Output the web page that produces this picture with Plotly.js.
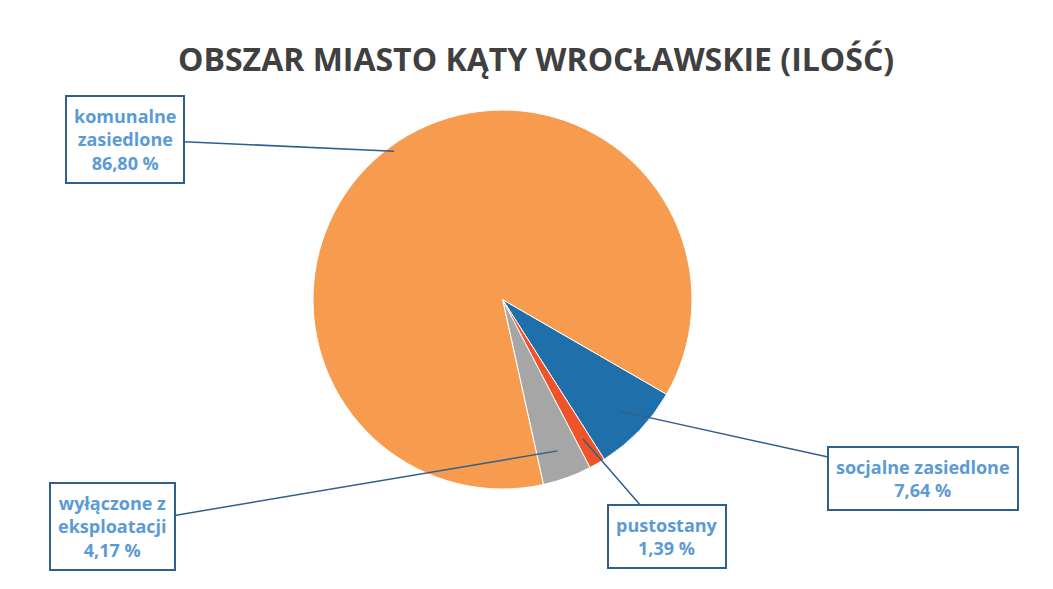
<!DOCTYPE html>
<html><head><meta charset="utf-8">
<script src="https://cdn.plot.ly/plotly-3.0.1.min.js"></script>
<style>html,body{margin:0;padding:0;background:#fff;}#chart{width:1053px;height:589px;}</style>
</head><body><div id="chart"></div>
<script>
const categories = ["socjalne zasiedlone", "pustostany", "wyłączone z eksploatacji", "komunalne zasiedlone"];
const labelLines = ["socjalne zasiedlone", "pustostany", "wyłączone z<br>eksploatacji", "komunalne<br>zasiedlone"];
const values = [7.64, 1.39, 4.17, 86.80];
const valueLabels = ["7,64 %", "1,39 %", "4,17 %", "86,80 %"];
const colors = ["#1F6FAA", "#F0532A", "#A6A6A6", "#F79B4F"];
const labelBoxCenters = [[923, 478], [667, 536], [112, 526], [125, 139]]; // pixels

const W = 1053, H = 589;
const M = {l: 0, r: 48, t: 110, b: 100};
const rotation = 120;
const plotH = H - M.t - M.b, plotW = W - M.l - M.r;
const cx = M.l + plotW / 2, cy = M.t + plotH / 2;
const R = Math.min(plotW, plotH) / 2;
const total = values.reduce((a, b) => a + b, 0);

const annotations = [{
  text: "<b>OBSZAR MIASTO KĄTY WROCŁAWSKIE (ILOŚĆ)</b>",
  xref: "paper", yref: "paper", x: (536 - M.l) / plotW, y: 1, yshift: 75, showarrow: false,
  font: {family: "Open Sans", size: 32, color: "#404040"}
}];
let cum = 0;
values.forEach((v, i) => {
  const b = (rotation + 360 * (cum + v / 2) / total) * Math.PI / 180;
  cum += v;
  const rr = i === 3 ? 0.97 : 0.85;
  const tx = cx + rr * R * Math.sin(b), ty = cy - rr * R * Math.cos(b);
  const [lx, ly] = labelBoxCenters[i];
  annotations.push({
    text: "<b>" + labelLines[i] + "<br>" + valueLabels[i] + "</b>",
    xref: "paper", yref: "paper",
    x: (tx - M.l) / plotW, y: 1 - (ty - M.t) / plotH,
    ax: lx - tx, ay: ly - ty, axref: "pixel", ayref: "pixel",
    showarrow: true, arrowhead: 0, arrowwidth: 1.5, arrowcolor: "#2F5F8F",
    bordercolor: "#2F5F8F", borderwidth: 2, borderpad: 7, bgcolor: "#FFFFFF",
    font: {family: "Open Sans", size: 18, color: "#5B9BD5"}, align: "center"
  });
});

Plotly.newPlot("chart", [{
  type: "pie", labels: categories, values: values, sort: false,
  direction: "clockwise", rotation: rotation,
  marker: {colors: colors, line: {color: "#FFFFFF", width: 1}},
  textinfo: "none", hoverinfo: "label+percent", showlegend: false
}], {
  width: W, height: H, margin: M, paper_bgcolor: "#FFFFFF",
  showlegend: false, annotations: annotations
}, {displayModeBar: false});
</script></body></html>
